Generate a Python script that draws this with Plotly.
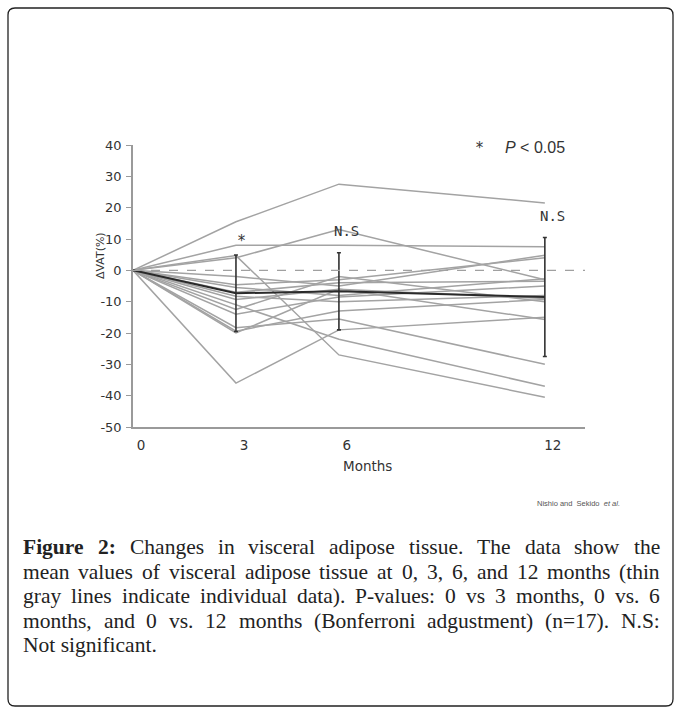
import plotly.graph_objects as go

# ---------------- data ----------------
months = [0, 3, 6, 12]
tick_labels = ["0", "3", "6", "12"]
y_ticks = [40, 30, 20, 10, 0, -10, -20, -30, -40, -50]
y_tick_labels = ["40", "30", "20", "10", "0", "-10", "-20", "-30", "-40", "-50"]

# individual subjects (ΔVAT %, at 0, 3, 6, 12 months)
subj01 = [0, 15.5, 27.5, 21.5]
subj02 = [0, 8.0, 8.0, 7.5]
subj03 = [0, 4.0, 13.0, -3.0]
subj04 = [0, 4.7, -27.0, -40.5]
subj05 = [0, -2.0, -5.0, 4.8]
subj06 = [0, -4.6, -3.0, 4.0]
subj07 = [0, -5.5, -8.0, -2.7]
subj08 = [0, -7.0, -4.0, -3.5]
subj09 = [0, -8.3, -10.0, -8.0]
subj10 = [0, -9.3, -6.0, -9.0]
subj11 = [0, -11.0, -22.0, -37.0]
subj12 = [0, -12.5, -2.0, -10.0]
subj13 = [0, -14.0, -8.5, -5.0]
subj14 = [0, -18.3, -15.5, -30.0]
subj15 = [0, -19.4, -13.0, -9.3]
subj16 = [0, -20.0, -6.0, -15.7]
subj17 = [0, -36.0, -19.0, -15.0]
subjects = [subj01, subj02, subj03, subj04, subj05, subj06, subj07, subj08, subj09,
            subj10, subj11, subj12, subj13, subj14, subj15, subj16, subj17]

mean_vals = [0, -7.3, -6.7, -8.5]
sd_vals = [0, 12.2, 12.3, 19.0]

sig_labels = ["", "*", "N.S", "N.S"]
sig_y = [None, 9.5, 12.5, 17.5]

caption_lines = [
    "Figure 2: Changes in visceral adipose tissue. The data show the",
    "mean values of visceral adipose tissue at 0, 3, 6, and 12 months (thin",
    "gray lines indicate individual data). P-values: 0 vs 3 months, 0 vs. 6",
    "months, and 0 vs. 12 months (Bonferroni adgustment) (n=17). N.S:",
    "Not significant.",
]

# ---------------- geometry helpers ----------------
W, H = 680, 713
L, R, T, B = 133, 585, 145, 427   # plot area in pixels


def px(x):
    return (x - L) / (R - L)


def py(y):
    return (B - y) / (B - T)


fig = go.Figure()

for s in subjects:
    fig.add_trace(go.Scatter(x=months, y=s, mode="lines",
                             line=dict(color="#a3a3a3", width=1.5),
                             showlegend=False, hoverinfo="skip"))

fig.add_trace(go.Scatter(
    x=months, y=mean_vals, mode="lines",
    line=dict(color="#2a2a2a", width=2),
    error_y=dict(type="data", array=sd_vals, visible=True,
                 color="#333333", thickness=1.6, width=2),
    showlegend=False))

# significance labels
for xm, lab, yy in zip(months, sig_labels, sig_y):
    if lab:
        fig.add_annotation(x=xm + (0.15 if lab == "*" else 0.22), y=yy, text=lab,
                           showarrow=False, xref="x", yref="y",
                           font=dict(family="DejaVu Sans Mono", size=14 if lab != "*" else 15,
                                     color="#333333"))

# zero dashed line
fig.add_shape(type="line", xref="paper", yref="y", x0=0, x1=1, y0=0, y1=0,
              line=dict(color="#a0a0a0", width=1.2, dash="dash"))

# significance note
fig.add_annotation(x=px(486), y=39, xref="paper", yref="y", text="*",
                   showarrow=False, font=dict(family="DejaVu Sans Mono", size=15, color="#333"))
fig.add_annotation(x=px(503), y=39.2, xref="paper", yref="y", xanchor="left",
                   text="<i>P</i> < 0.05", showarrow=False,
                   font=dict(family="Liberation Sans", size=16, color="#333"))

# y axis title
fig.add_annotation(x=px(92), y=4.7, xref="paper", yref="y", text="ΔVAT(%)",
                   textangle=-90, showarrow=False,
                   font=dict(family="DejaVu Sans", size=11, color="#333"))

# x axis title
fig.add_annotation(x=px(367), y=py(476), xref="paper", yref="paper", text="Months",
                   showarrow=False, font=dict(family="DejaVu Sans", size=13.5, color="#333"))

# credit
fig.add_annotation(x=px(622), y=py(510), xref="paper", yref="paper", xanchor="right",
                   text="Nishio and  Sekido  <i>et al.</i>", showarrow=False,
                   font=dict(family="Liberation Sans", size=7.5, color="#555"))

# ---------------- caption (justified, Times metrics) ----------------
REG = {" ": 250, "(": 333, ")": 333, ",": 250, "-": 333, ".": 250, ":": 278, "=": 564,
       "A": 722, "B": 667, "C": 667, "D": 722, "F": 556, "N": 722, "P": 556, "S": 556,
       "T": 611, "a": 444, "b": 500, "c": 444, "d": 500, "e": 444, "f": 333, "g": 500,
       "h": 500, "i": 278, "j": 278, "k": 500, "l": 278, "m": 778, "n": 500, "o": 500,
       "p": 500, "q": 500, "r": 333, "s": 389, "t": 278, "u": 500, "v": 500, "w": 722,
       "x": 500, "y": 500, "z": 444}
BOLD = {"F": 611, "i": 278, "g": 500, "u": 556, "r": 444, "e": 444, "2": 500, ":": 333}
CAP_SIZE = 21.5
CAP_LEFT, CAP_RIGHT = 22, 659
caption_y = [547, 572, 596, 621, 645]


def word_width(w, bold):
    tbl = BOLD if bold else REG
    return sum(tbl.get(c, 500) for c in w) * CAP_SIZE / 1000.0


cap_font = dict(family="Liberation Serif", size=CAP_SIZE, color="#222")
for li, (line, yy) in enumerate(zip(caption_lines, caption_y)):
    if li == len(caption_lines) - 1:
        fig.add_annotation(x=px(CAP_LEFT), y=py(yy), xref="paper", yref="paper",
                           xanchor="left", yanchor="middle", text=line, showarrow=False,
                           font=cap_font, borderpad=0)
        continue
    words = line.split(" ")
    bolds = [li == 0 and i < 2 for i in range(len(words))]
    widths = [word_width(w, b) for w, b in zip(words, bolds)]
    gap = (CAP_RIGHT - CAP_LEFT - sum(widths)) / (len(words) - 1)
    xpos = CAP_LEFT
    for w, b, wd in zip(words, bolds, widths):
        fig.add_annotation(x=px(xpos), y=py(yy), xref="paper", yref="paper",
                           xanchor="left", yanchor="middle",
                           text=f"<b>{w}</b>" if b else w, showarrow=False,
                           font=cap_font, borderpad=0)
        xpos += wd + gap

# rounded border
x0, x1, y0, y1 = px(8), px(673), py(706), py(8)
rx, ry = 7 / (R - L), 7 / (B - T)
path = (f"M {x0+rx},{y1} L {x1-rx},{y1} Q {x1},{y1} {x1},{y1-ry} "
        f"L {x1},{y0+ry} Q {x1},{y0} {x1-rx},{y0} L {x0+rx},{y0} "
        f"Q {x0},{y0} {x0},{y0+ry} L {x0},{y1-ry} Q {x0},{y1} {x0+rx},{y1} Z")
fig.add_shape(type="path", xref="paper", yref="paper", path=path,
              line=dict(color="#222", width=1.3))

fig.update_layout(
    width=W, height=H,
    margin=dict(l=L, r=W - R, t=T, b=H - B),
    paper_bgcolor="white", plot_bgcolor="white",
    showlegend=False,
    xaxis=dict(range=[0, 13.17], tickvals=months, ticktext=tick_labels,
               showgrid=False, zeroline=False, showline=True, linecolor="#9a9a9a",
               linewidth=1.5, ticks="", ticklabelstandoff=5, ticklabelshift=8,
               tickfont=dict(family="DejaVu Sans", size=13.5, color="#333")),
    yaxis=dict(range=[-50, 40], tickvals=y_ticks, ticktext=y_tick_labels,
               showgrid=False, zeroline=False,
               showline=True, linecolor="#9a9a9a", linewidth=1.5,
               ticks="outside", ticklen=5, tickcolor="#9a9a9a", tickwidth=1.2,
               ticklabelstandoff=2,
               tickfont=dict(family="DejaVu Sans", size=13, color="#333")),
)

fig.write_html("out.html")
